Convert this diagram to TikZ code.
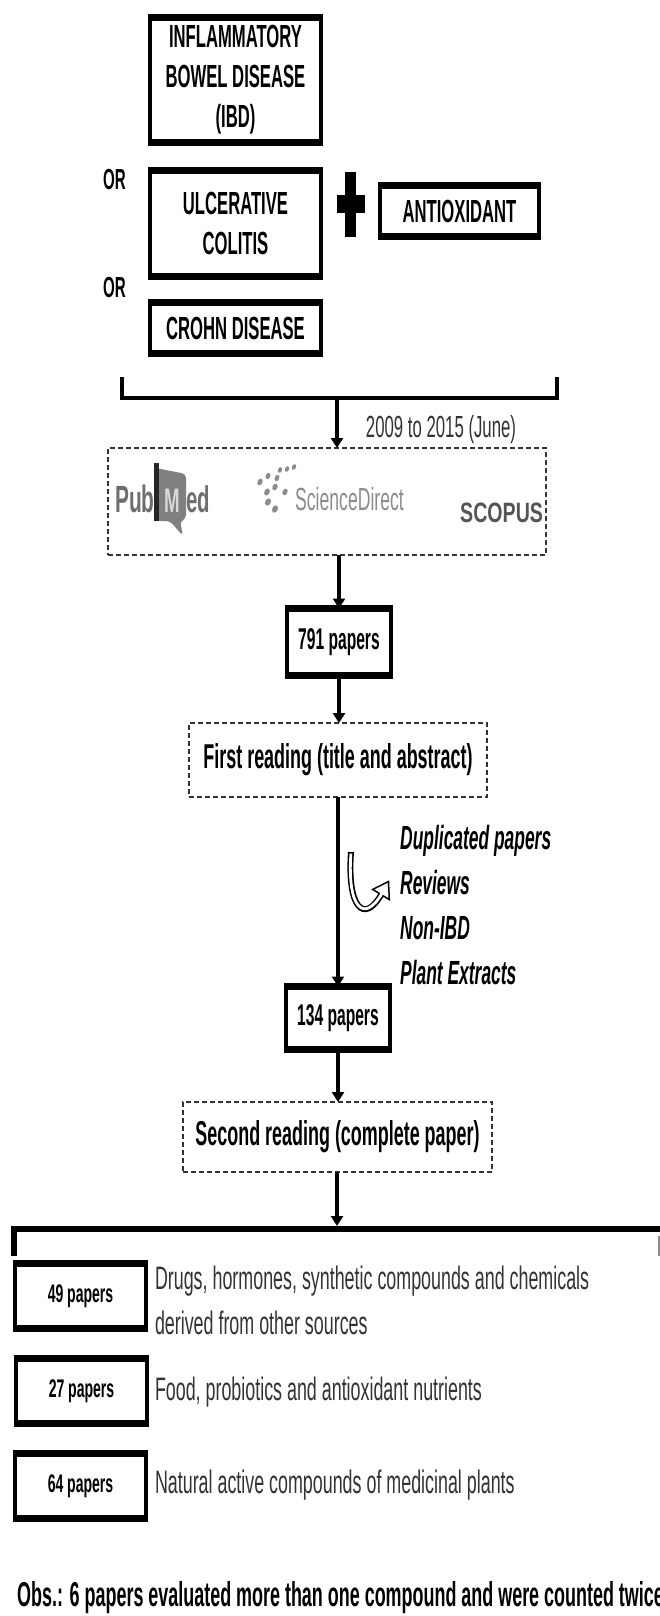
\documentclass[tikz,border=0pt]{standalone}
\usepackage{fontspec}
\setmainfont{Liberation Sans}
\newfontfamily\nf[FakeStretch=0.55]{Liberation Sans}
\newfontfamily\nfb[FakeStretch=0.52]{Liberation Sans}
\newfontfamily\scopusfont[FakeStretch=0.7]{Liberation Sans}
\usetikzlibrary{arrows.meta}
\definecolor{txtgray}{HTML}{333333}
\definecolor{pubgray}{HTML}{6E6E6E}
\definecolor{sdgray}{HTML}{8C8C8C}
\definecolor{scgray}{HTML}{555555}
\newcommand{\fsz}[2]{\fontsize{#1}{#2}\selectfont}
\begin{document}
\begin{tikzpicture}[x=1pt,y=1pt,
  tbox/.style={draw, line width=4pt, inner sep=0pt, outer sep=0pt, align=center},
  dbox/.style={draw=black!80, line width=1.5pt, dash pattern=on 5pt off 3pt, inner sep=0pt, outer sep=0pt, align=center},
  flow/.style={line width=4pt, -{Triangle[length=10pt,width=12pt]}},
  lab/.style={inner sep=0pt, outer sep=0pt, align=left, text=txtgray},
  ornode/.style={inner sep=0pt, font=\nfb\bfseries\fsz{29}{29}},
]
\fill[white] (0,0) rectangle (659,-1616);
\useasboundingbox (0,0) rectangle (659,-1616);

% ---- search terms ----
\node[tbox, minimum width=171pt, minimum height=125pt, font=\nfb\bfseries\fsz{32}{40}] (ibd) at (235.5,-80) {INFLAMMATORY\\BOWEL DISEASE\\(IBD)};
\node[tbox, minimum width=171pt, minimum height=106pt, font=\nfb\bfseries\fsz{32}{40}] (uc) at (235.5,-223.5) {ULCERATIVE\\COLITIS};
\node[tbox, minimum width=171pt, minimum height=51pt, font=\nfb\bfseries\fsz{32}{32}] (crohn) at (235.5,-328) {CROHN DISEASE};
\node[tbox, minimum width=159pt, minimum height=51pt, font=\nfb\bfseries\fsz{32}{32}] (anti) at (459.5,-211) {ANTIOXIDANT};
\node[ornode] (or1) at (114.5,-180) {OR};
\node[ornode] (or2) at (114.5,-288) {OR};
% plus sign
\fill (345,-172) rectangle (356,-237);
\fill (337,-195) rectangle (365,-213);

% bracket
\draw[line width=4pt] (122,-377) |- (557,-398) -- (557,-377);
\coordinate (brk) at (337,-398);

% ---- databases ----
\node[dbox, minimum width=438pt, minimum height=107pt] (db) at (327,-501.5) {};
\node[lab, font=\nf\fsz{30.5}{30.5}] (yrs) at (441,-430) {2009 to 2015 (June)};
\draw[flow] (brk) -- (brk |- db.north);

% PubMed logo
\node[anchor=base west, inner sep=0pt, text=pubgray, font=\nf\bfseries\fsz{38}{38}] (pub) at (115,-512) {Pub};
\fill[black!50, rounded corners=4pt] (156,-468) -- (186,-474) -- (186,-519) -- (180,-521) -- (183,-536) -- (170,-521) -- (156,-521) -- cycle;
\fill[black!85] (154,-463) rectangle (159,-521);
\node[anchor=base, inner sep=0pt, text=black!15, font=\nf\bfseries\fsz{34}{34}] (pm) at (172,-512) {M};
\node[anchor=base west, inner sep=0pt, text=pubgray, font=\nf\bfseries\fsz{37}{37}] (ed) at (186,-512) {ed};

% ScienceDirect logo
\foreach \px/\py/\ra/\rb in {280/470/2/3, 287/469/2/3, 294/467/2/3, 268/476/2.3/3.3, 277/478/2.3/3.3,
  260/482/2.5/3.5, 275/487/2.5/3.5, 267/492/2.7/3.7, 285/492/2.5/3.5, 268/502/2.8/3.9, 275/509/2.8/3.9}
  \fill[sdgray, rotate around={-25:(\px,-\py)}] (\px,-\py) ellipse ({\ra} and {\rb});
\node[anchor=base west, inner sep=0pt, text=sdgray, font=\nf\fsz{32}{32}] (sd) at (295,-510) {ScienceDirect};

% Scopus logo
\node[anchor=base west, inner sep=0pt, text=scgray, font=\scopusfont\bfseries\fsz{28}{28}] (sco) at (460,-522) {SCOPUS};

% ---- flow ----
\node[tbox, minimum width=104pt, minimum height=67pt, font=\nfb\bfseries\fsz{30}{30}] (p791) at (339,-642) {791 papers};
\node[dbox, minimum width=298pt, minimum height=74pt, font=\nfb\bfseries\fsz{34.5}{34.5}] (first) at (338,-760) {First reading (title and abstract)};
\node[tbox, minimum width=104pt, minimum height=63pt, font=\nfb\bfseries\fsz{30}{30}] (p134) at (338,-1018) {134 papers};
\node[dbox, minimum width=309pt, minimum height=70pt, font=\nfb\bfseries\fsz{34.5}{34.5}] (second) at (337.5,-1137) {Second reading (complete paper)};

\draw[flow] (db.south -| p791) -- (p791.north);
\draw[flow] (p791.south) -- (p791.south |- first.north);
\draw[flow] (first.south -| p134) -- (p134.north);
\draw[flow] (p134.south) -- (p134.south |- second.north);

% exclusions
\node[anchor=west, inner sep=0pt, align=left, font=\nfb\bfseries\itshape\fsz{33.5}{44.7}] (excl) at (400,-905) {Duplicated papers\\Reviews\\Non-IBD\\Plant Extracts};
% hollow curved arrow
\coordinate (ca1) at (351,-852);
\coordinate (ca2) at (381,-895);
\draw[line width=6pt] (ca1) .. controls (347,-908) and (364,-924) .. (ca2);
\filldraw[fill=white, draw=black, line width=1.5pt, line join=miter] (388.5,-881.5) -- (389.3,-899.6) -- (372.7,-889.4) -- cycle;
\draw[white, line width=2.8pt, shorten <=1.6pt, shorten >=-1.8pt] (ca1) .. controls (347,-908) and (364,-924) .. (ca2);

% ---- results ----
\coordinate (hl) at (337,-1226);
\draw[flow] (second.south -| hl) -- (hl);
\draw[line width=6pt] (14,-1256) |- (665,-1229);
\draw[line width=2pt, black!45] (658.5,-1236) -- (658.5,-1256);

\node[tbox, minimum width=131pt, minimum height=65pt, font=\nf\bfseries\fsz{25.5}{25.5}] (p49) at (80.5,-1296) {49 papers};
\node[tbox, minimum width=131pt, minimum height=65pt, font=\nf\bfseries\fsz{25.5}{25.5}] (p27) at (81.5,-1391) {27 papers};
\node[tbox, minimum width=131pt, minimum height=65pt, font=\nf\bfseries\fsz{25.5}{25.5}] (p64) at (80.5,-1486) {64 papers};

\node[lab, anchor=west, font=\nf\fsz{32.5}{45}] (t49) at (155,-1300.5) {Drugs, hormones, synthetic compounds and chemicals\\derived from other sources};
\node[lab, anchor=west, font=\nf\fsz{32.5}{32.5}] (t27) at (155,-1392) {Food, probiotics and antioxidant nutrients};
\node[lab, anchor=west, font=\nf\fsz{32.5}{32.5}] (t64) at (155,-1485) {Natural active compounds of medicinal plants};

\node[anchor=west, inner sep=0pt, font=\nfb\bfseries\fsz{34.5}{34.5}] (obs) at (17,-1598) {Obs.: 6 papers evaluated more than one compound and were counted twice.};

% thicker top and bottom edges of the solid boxes
\foreach \n in {ibd,uc,crohn,anti,p791,p134,p49,p27,p64}{
  \draw[line width=7pt] ([xshift=-2pt]\n.north west) -- ([xshift=2pt]\n.north east);
  \draw[line width=7pt] ([xshift=-2pt]\n.south west) -- ([xshift=2pt]\n.south east);
}
\end{tikzpicture}
\end{document}
